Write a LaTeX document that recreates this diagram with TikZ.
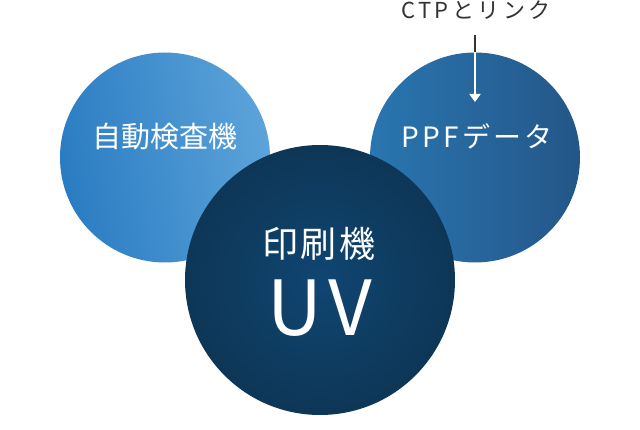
\documentclass[tikz,border=0pt]{standalone}
\usepackage{fontspec}
\usepackage{tikz}
\usetikzlibrary{arrows.meta, positioning}
\usepackage{xcolor}
\newfontfamily\jpfont{Noto Sans CJK JP}
\newfontfamily\jpwide{Noto Sans CJK JP}[LetterSpace=12]
\definecolor{LBlueA} {HTML}{2A7CC2}
\definecolor{LBlueB} {HTML}{5CA3DA}
\definecolor{MBlueA} {HTML}{2976B0}
\definecolor{MBlueB} {HTML}{245688}
\definecolor{NavyIn} {HTML}{0F4672}
\definecolor{NavyOut}{HTML}{0E3656}
\definecolor{DGray}  {HTML}{333333}
\tikzset{
  disc/.style={
    circle, draw=none, inner sep=0pt, minimum size=#1,
  },
  lbl/.style args={#1}{
    font=\jpwide\fontsize{#1}{#1}\selectfont, text=white,
    inner sep=0pt, align=center, anchor=base,
  },
  arr/.style args={#1}{
    -{Triangle[length=8pt,width=11pt]},
    line width=2pt, color=#1,
  },
}

\begin{document}
\begin{tikzpicture}[x=1pt,y=-1pt]
    \useasboundingbox (0,0) rectangle (640,430);
    \node[disc=210pt, left color=LBlueA, right color=LBlueB, shading angle=100] (kensa) at (165,157.5) {};
    \node[disc=210pt, left color=MBlueA, right color=MBlueB, shading angle=90] (ppf) at (475,157.5) {};
    \node[disc=270pt, inner color=NavyIn, outer color=NavyOut] (insatsu) at (320,280) {};
    \node[lbl=29pt, font=\jpfont\fontsize{29pt}{29pt}\selectfont] (kensat) at (165,148) {自動検査機};
    \node[lbl=28pt] (ppft) at (477,148) {PPFデータ};
    \node[lbl=36pt, font=\jpfont\fontsize{36pt}{36pt}\selectfont\addfontfeatures{LetterSpace=6}] (insatsut) at (319,258) {印刷機};
    \node[lbl=76pt, font=\jpfont\fontsize{76pt}{76pt}\selectfont\addfontfeatures{LetterSpace=9}] (uvt) at (320,335) {UV};
    \node[font=\jpfont\fontsize{22pt}{22pt}\selectfont\addfontfeatures{LetterSpace=16}, text=DGray, inner sep=0pt, anchor=base] (ctp) at (476,19) {CTPとリンク};
    \coordinate (ctpstart) at (475,35);
    \coordinate (ppftip) at (475,102);
    \draw[line width=2pt, DGray] (ctpstart) -- (ppf.north);
    \draw[arr=white] (ppf.north) -- (ppftip);
\end{tikzpicture}
\end{document}
